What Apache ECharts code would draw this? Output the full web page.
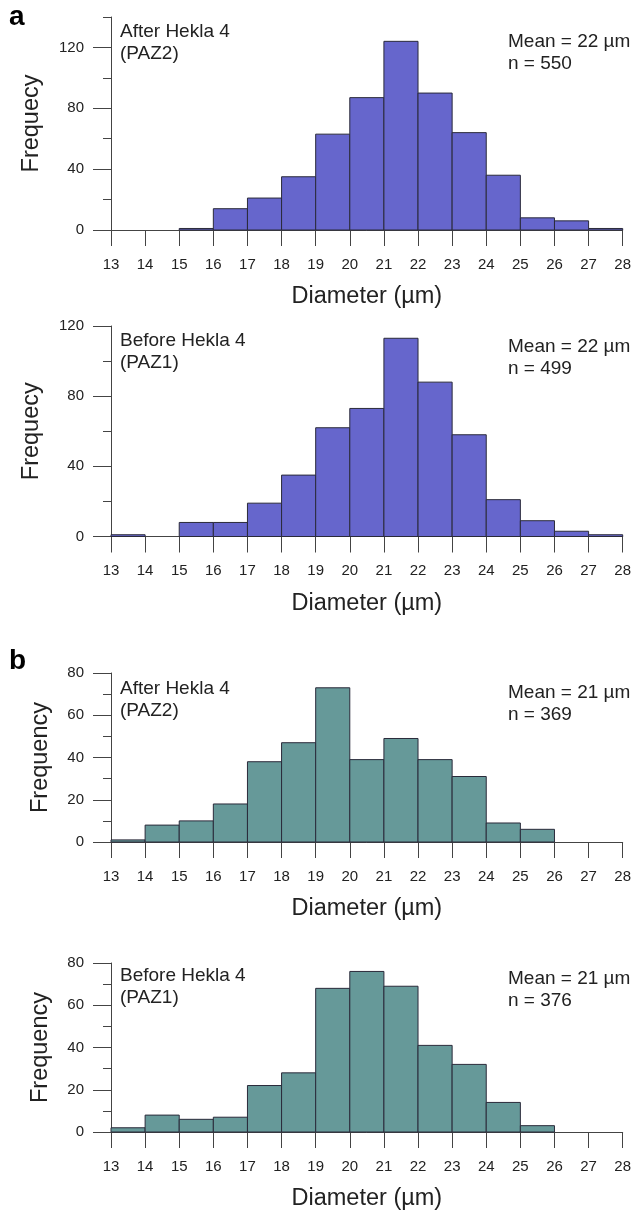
<!DOCTYPE html>
<html>
<head>
<meta charset="utf-8">
<script src="https://cdn.jsdelivr.net/npm/echarts@6/dist/echarts.min.js"></script>
<style>
  html, body { margin: 0; padding: 0; background: #fff; }
  #chart { width: 633px; height: 1210px; }
</style>
</head>
<body>
<div id="chart"></div>
<script>
// bin edges (µm) and counts per 1 µm bin
const binEdges = [13, 14, 15, 16, 17, 18, 19, 20, 21, 22, 23, 24, 25, 26, 27, 28]
const afterHeklaA = [0, 0, 1, 14, 21, 35, 63, 87, 124, 90, 64, 36, 8, 6, 1]
const beforeHeklaA = [1, 0, 8, 8, 19, 35, 62, 73, 113, 88, 58, 21, 9, 3, 1]
const afterHeklaB = [1, 8, 10, 18, 38, 47, 73, 39, 49, 39, 31, 9, 6, 0, 0]
const beforeHeklaB = [2, 8, 6, 7, 22, 28, 68, 76, 69, 41, 32, 14, 3, 0, 0]

const FONT = '"Liberation Sans", Arial, sans-serif'
const INK = '#222'
const AXIS = '#444'
const purple = '#6666cc'
const teal = '#669999'

const panels = [
  { counts: afterHeklaA, color: purple, top: 17, zero: 230, yMax: 140, labelMax: 120, major: 40, minor: 20,
    yName: 'Frequecy', nameGap: 67, site: 'After Hekla 4\n(PAZ2)', stats: 'Mean = 22 µm\nn = 550', siteY: 19, statsY: 29 },
  { counts: beforeHeklaA, color: purple, top: 326, zero: 536.5, yMax: 120, labelMax: 120, major: 40, minor: 20,
    yName: 'Frequecy', nameGap: 67, site: 'Before Hekla 4\n(PAZ1)', stats: 'Mean = 22 µm\nn = 499', siteY: 328, statsY: 334 },
  { counts: afterHeklaB, color: teal, top: 673, zero: 842, yMax: 80, labelMax: 80, major: 20, minor: 10,
    yName: 'Frequency', nameGap: 58, site: 'After Hekla 4\n(PAZ2)', stats: 'Mean = 21 µm\nn = 369', siteY: 676, statsY: 680 },
  { counts: beforeHeklaB, color: teal, top: 963, zero: 1132, yMax: 80, labelMax: 80, major: 20, minor: 10,
    yName: 'Frequency', nameGap: 58, site: 'Before Hekla 4\n(PAZ1)', stats: 'Mean = 21 µm\nn = 376', siteY: 963, statsY: 966 }
]

const LEFT = 111
const RIGHT = 10.3

const grid = []
const xAxis = []
const yAxis = []
const series = []
const graphic = []

panels.forEach((p, i) => {
  const h = p.zero - p.top
  const hMajor = h * p.labelMax / p.yMax
  // main grid: bars, x axis, short (minor) y ticks
  grid.push({ left: LEFT, right: RIGHT, top: p.top, height: h, outerBoundsMode: 'none' })
  // overlay grid: long y ticks + labels
  grid.push({ left: LEFT, right: RIGHT, top: p.zero - hMajor, height: hMajor, outerBoundsMode: 'none' })

  xAxis.push({
    gridIndex: 2 * i, type: 'value', min: 13, max: 28, interval: 1,
    axisLine: { show: true, onZero: false, lineStyle: { color: AXIS, width: 1 } },
    axisTick: { show: true, length: 16, lineStyle: { color: AXIS, width: 1 } },
    axisLabel: { fontFamily: FONT, fontSize: 15, color: INK, margin: 27 },
    splitLine: { show: false },
    name: 'Diameter (µm)', nameLocation: 'middle', nameGap: 55,
    nameTextStyle: { fontFamily: FONT, fontSize: 23.5, color: INK },
    nameMoveOverlap: false
  })
  xAxis.push({ gridIndex: 2 * i + 1, type: 'value', min: 13, max: 28, show: false })

  yAxis.push({
    gridIndex: 2 * i, type: 'value', min: 0, max: p.yMax, interval: p.minor,
    axisLine: { show: true, lineStyle: { color: AXIS, width: 1 } },
    axisTick: { show: true, length: 8, lineStyle: { color: AXIS, width: 1 } },
    axisLabel: { show: false },
    splitLine: { show: false },
    name: p.yName, nameLocation: 'middle', nameGap: p.nameGap, nameRotate: 90,
    nameTextStyle: { fontFamily: FONT, fontSize: 23.5, color: INK },
    nameMoveOverlap: false
  })
  yAxis.push({
    gridIndex: 2 * i + 1, type: 'value', min: 0, max: p.labelMax, interval: p.major,
    axisLine: { show: false },
    axisTick: { show: true, length: 18, lineStyle: { color: AXIS, width: 1 } },
    axisLabel: { fontFamily: FONT, fontSize: 15, color: INK, margin: 27 },
    splitLine: { show: false }
  })

  const data = p.counts.map((c, k) => [binEdges[k], binEdges[k + 1], c]).filter(d => d[2] > 0)
  series.push({
    type: 'custom',
    xAxisIndex: 2 * i, yAxisIndex: 2 * i,
    data: data,
    renderItem: (params, api) => {
      const a = api.coord([api.value(0), api.value(2)])
      const b = api.coord([api.value(1), 0])
      return {
        type: 'rect',
        shape: { x: a[0], y: a[1], width: b[0] - a[0], height: b[1] - a[1] },
        style: { fill: p.color, stroke: '#2a2a3a', lineWidth: 1 }
      }
    },
    z: 1
  })

  graphic.push({ type: 'text', left: 120, top: p.siteY + 2,
    style: { text: p.site, font: '19px ' + FONT, lineHeight: 22, fill: INK } })
  graphic.push({ type: 'text', left: 508, top: p.statsY + 2,
    style: { text: p.stats, font: '19px ' + FONT, lineHeight: 22, fill: INK } })
})

graphic.push({ type: 'text', left: 9, top: 3, style: { text: 'a', font: 'bold 28px ' + FONT, fill: '#000' } })
graphic.push({ type: 'text', left: 9, top: 647, style: { text: 'b', font: 'bold 28px ' + FONT, fill: '#000' } })

const chart = echarts.init(document.getElementById('chart'))
chart.setOption({
  animation: false,
  backgroundColor: '#fff',
  grid, xAxis, yAxis, series, graphic
})
</script>
</body>
</html>
